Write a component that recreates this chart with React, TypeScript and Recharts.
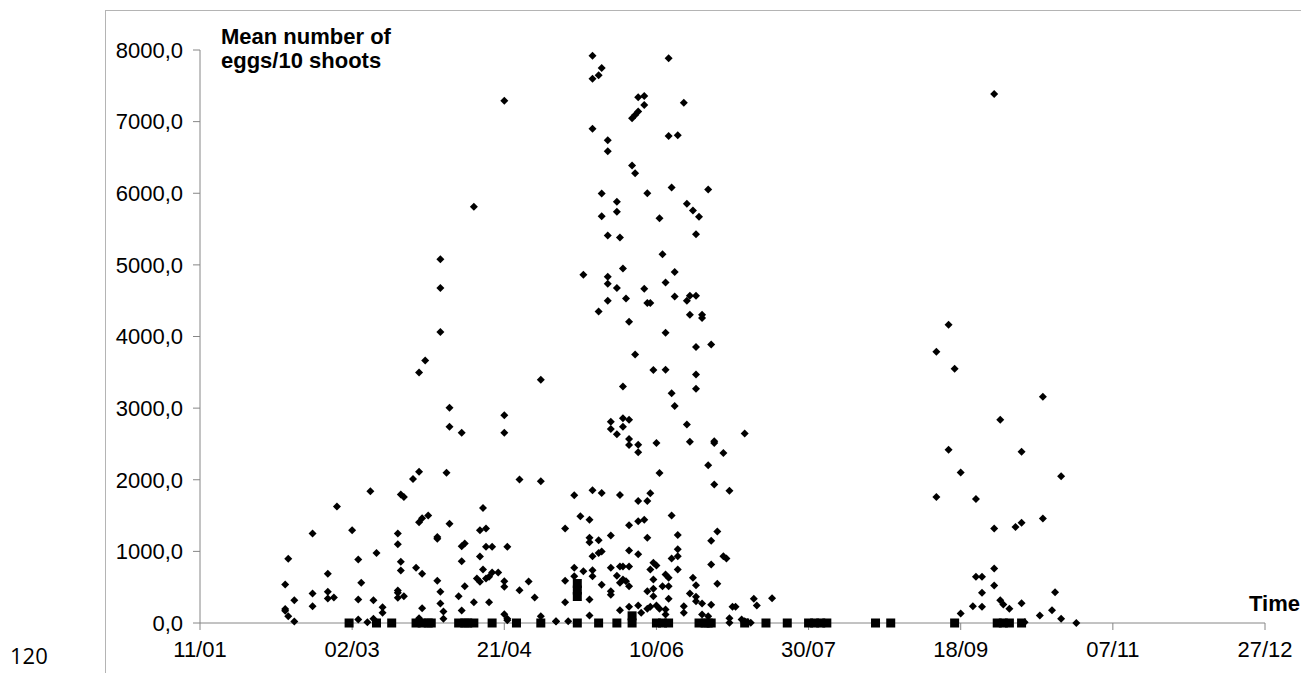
import React from 'react';
import { ScatterChart, Scatter, XAxis, YAxis } from 'recharts';

// day of year for the x axis, ticks every 50 days starting at 11/01
const xTicks = [11, 61, 111, 161, 211, 261, 311, 361];
const xTickLabels = ['11/01', '02/03', '21/04', '10/06', '30/07', '18/09', '07/11', '27/12'];
const yTicks = [0, 1000, 2000, 3000, 4000, 5000, 6000, 7000, 8000];

// diamonds: mean number of eggs / 10 shoots
const eggDays = [
  40, 39, 39, 39, 40, 42, 42, 48, 48, 48, 53, 53, 55, 53, 56, 61, 63, 64, 63, 63,
  66, 67, 69, 68, 71, 71, 68, 76, 76, 77, 77, 76, 76, 76, 78, 77, 78, 81, 83, 83,
  84, 86, 82, 84, 84, 83, 93, 93, 97, 92, 93, 89, 89, 97, 98, 97, 89, 90, 90, 91,
  91, 98, 96, 97, 101, 103, 105, 105, 107, 103, 104, 102, 103, 105, 106, 107, 109, 104, 111, 111,
  116, 123, 123, 112, 106, 111, 111, 116, 119, 121, 111, 112, 123, 128, 111, 101, 90, 90, 90, 85,
  83, 112,
  140, 143, 140, 142, 165, 155, 157, 157, 153, 154, 155, 170, 140, 145, 145, 165, 168, 153, 154, 143,
  148, 148, 143, 158, 166, 178, 171, 173, 175, 162, 145, 149, 174, 163, 137, 145, 145, 150, 148, 157,
  164, 167, 145, 151, 158, 159, 167, 171, 172, 174, 142, 152, 172, 176, 176, 164, 174, 179, 154, 160,
  164, 174, 174, 150, 166, 167, 146, 146, 148, 150, 152, 150, 152, 152, 155, 155, 171, 172, 180, 180,
  190, 183, 178, 161, 162, 180, 185, 134, 140, 143, 149, 155, 158, 159, 166, 136, 139, 131, 152, 155,
  157, 146, 139, 139, 142, 158, 168, 168, 168, 166, 140, 142, 143, 152, 155, 181, 179, 183, 184, 179,
  168, 131, 134, 134, 131, 137, 140, 140, 143, 146, 146, 139, 139, 146, 148, 149, 150, 152, 149, 150,
  151, 152, 149, 152, 155, 156, 158, 159, 160, 161, 159, 160, 160, 160, 158, 161, 162, 164, 165, 165,
  163, 165, 164, 164, 170, 170, 173, 174, 172, 174, 174, 176, 179, 176, 178, 181, 185, 185, 186, 187,
  189, 190, 191, 192, 193, 194, 199, 128, 132,
  253, 257, 259, 288, 274, 257, 281, 261, 294, 253, 266, 288, 272, 279, 281, 272, 272, 266, 268, 272,
  268, 292, 274, 275, 277, 281, 265, 268, 261, 287, 291, 294, 299, 282,
];
const eggValues = [
  896, 537, 195, 170, 95, 318, 21, 1249, 411, 234, 686, 435, 356, 342, 1625, 1295, 886, 561, 328, 49,
  11, 1839, 979, 318, 221, 142, 58, 1249, 1100, 854, 732, 453, 421, 351, 374, 1793, 1760, 2011, 2113, 1406,
  1462, 1500, 770, 686, 206, 67, 3006, 2741, 2657, 2099, 1384, 1175, 1202, 1071, 1109, 862, 589, 435, 272, 160,
  58, 513, 374, 174, 290, 1295, 1318, 1063, 1063, 928, 746, 621, 575, 621, 644, 704, 704, 1607, 2899, 2657,
  2002, 1978, 3397, 1063, 290, 583, 505, 458, 579, 356, 123, 58, 95, 21, 7293, 5810, 5080, 4676, 4062, 3666,
  3499, 39,
  7921, 7749, 7600, 7647, 7884, 7340, 7358, 7233, 7047, 7094, 7140, 7265, 6902, 6741, 6587, 6801, 6810, 6386, 6280, 5996,
  5880, 5740, 5680, 6001, 6079, 6051, 5852, 5759, 5671, 5652, 5410, 5382, 5429, 5150, 4862, 4834, 4736, 4950, 4676, 4666,
  4754, 4899, 4499, 4531, 4467, 4467, 4559, 4499, 4569, 4569, 4350, 4206, 4304, 4304, 4258, 4052, 3853, 3889, 3750, 3532,
  3536, 3471, 3271, 3303, 3206, 3030, 2811, 2709, 2634, 2857, 2839, 2741, 2570, 2486, 2490, 2383, 2773, 2532, 2536, 2514,
  2644, 2374, 2201, 2514, 2095, 1932, 1848, 1783, 1853, 1816, 1788, 1705, 1705, 1811, 1500, 1490, 1440, 1318, 1365, 1420,
  1440, 1221, 1189, 1128, 1155, 1189, 1230, 1030, 932, 900, 932, 979, 997, 1011, 960, 1276, 1147, 932, 900, 816,
  746, 589, 770, 653, 290, 723, 737, 653, 533, 444, 393, 328, 105, 770, 658, 788, 788, 788, 561, 607,
  583, 513, 179, 226, 244, 142, 198, 226, 840, 802, 746, 607, 477, 374, 444, 244, 198, 677, 631, 513,
  513, 338, 188, 119, 234, 142, 631, 527, 412, 365, 304, 272, 254, 119, 95, 547, 67, 3, 226, 226,
  49, 25, 11, 3, 338, 244, 346, 25, 25,
  3787, 4164, 3550, 3160, 2836, 2420, 2392, 2100, 2050, 1760, 1730, 1458, 1318, 1340, 1400, 7387, 760, 644, 644, 523,
  421, 430, 318, 258, 198, 276, 234, 226, 133, 105, 179, 58, 0, 11,
];

// squares: second series, mostly zero
const zeroDays = [
  60, 69, 74, 82, 84, 86, 87, 96, 98, 99, 101, 107, 115, 123, 135, 135, 135, 135, 142, 148,
  153, 153, 161, 163, 165, 175, 177, 178, 179, 190, 197, 204, 211, 213, 215, 217, 233, 238, 259, 273,
  275, 277, 281,
];
const zeroValues = [
  0, 0, 0, 0, 0, 0, 0, 0, 0, 0, 0, 0, 0, 0, 0, 370, 460, 551, 0, 0,
  0, 100, 0, 0, 0, 0, 0, 0, 0, 0, 0, 0, 0, 0, 0, 0, 0, 0, 0, 0,
  0, 0, 0,
];

const eggPoints = eggDays.map((d, i) => ({ day: d, eggs: eggValues[i] }));
const zeroPoints = zeroDays.map((d, i) => ({ day: d, eggs: zeroValues[i] }));

const font = '"Liberation Sans", Arial, sans-serif';
const axisColor = '#868686';

const Diamond = (p: any) => (
  <path d={`M${p.cx},${p.cy - 4}L${p.cx + 4},${p.cy}L${p.cx},${p.cy + 4}L${p.cx - 4},${p.cy}Z`} fill="#000" />
);
const Square = (p: any) => <rect x={p.cx - 4.5} y={p.cy - 4.5} width={9} height={9} fill="#000" />;

export default function App() {
  return (
    <div style={{ position: 'absolute', left: 0, top: 0, width: 1301, height: 673, overflow: 'hidden', background: '#fff' }}>
      {/* page frame */}
      <div style={{ position: 'absolute', left: 105, top: 10, right: 0, bottom: 0, borderLeft: '1px solid #b4b4b4', borderTop: '1px solid #b4b4b4' }} />
      <div style={{ position: 'absolute', left: 10, top: 644, fontFamily: '"Open Sans", sans-serif', fontSize: 22, lineHeight: 1, color: '#000' }}>120</div>

      <div style={{ position: 'absolute', left: 0, top: 0 }}>
        <ScatterChart width={1301} height={673} margin={{ top: 50, right: 36, bottom: 0, left: 0 }}>
          <XAxis
            type="number"
            dataKey="day"
            domain={[11, 361]}
            ticks={xTicks}
            tickFormatter={(v: number) => xTickLabels[xTicks.indexOf(v)]}
            height={50}
            tickSize={7}
            tickMargin={11}
            stroke={axisColor}
            tick={{ fill: '#000', fontSize: 22, fontFamily: font }}
          />
          <YAxis
            type="number"
            dataKey="eggs"
            domain={[0, 8000]}
            ticks={yTicks}
            tickFormatter={(v: number) => v.toFixed(1).replace('.', ',')}
            width={200}
            tickSize={7}
            tickMargin={10}
            stroke={axisColor}
            tick={{ fill: '#000', fontSize: 22, fontFamily: font }}
          />
          <Scatter data={zeroPoints} shape={Square} isAnimationActive={false} />
          <Scatter data={eggPoints} shape={Diamond} isAnimationActive={false} />
        </ScatterChart>
      </div>

      <div style={{ position: 'absolute', left: 221, top: 25, fontFamily: font, fontWeight: 'bold', fontSize: 22, lineHeight: '24px', color: '#000' }}>
        Mean number of<br />eggs/10 shoots
      </div>
      <div style={{ position: 'absolute', left: 1249, top: 592, fontFamily: font, fontWeight: 'bold', fontSize: 22, lineHeight: '24px', color: '#000' }}>
        Time
      </div>
    </div>
  );
}
